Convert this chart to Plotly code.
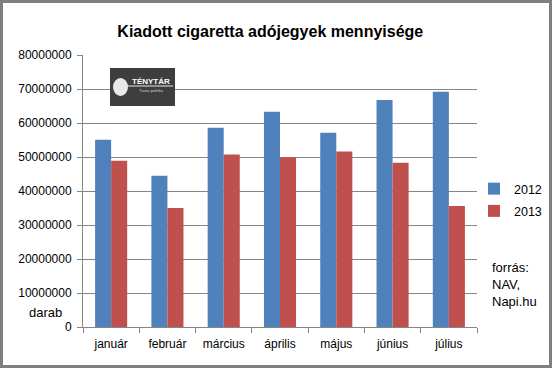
import plotly.graph_objects as go

months = ["január", "február", "március", "április", "május", "június", "július"]
series_names = ["2012", "2013"]
values_2012 = [55100000, 44500000, 58600000, 63300000, 57100000, 66800000, 69200000]
values_2013 = [48900000, 35000000, 50700000, 49900000, 51600000, 48300000, 35600000]
y_ticks = [0, 10000000, 20000000, 30000000, 40000000, 50000000, 60000000, 70000000, 80000000]

W, H = 555, 374
L, R, T, B = 83, 477, 55, 327  # plot area in pixels


def px(x):
    return (x - L) / (R - L)


def py(y):
    return (B - y) / (B - T)


FONT = "Liberation Sans"
fig = go.Figure()
fig.add_trace(go.Bar(x=months, y=values_2012, name=series_names[0], marker_color="#4F81BD",
                     marker_line_width=0, legendgroup="a"))
fig.add_trace(go.Bar(x=months, y=values_2013, name=series_names[1], marker_color="#C0504D",
                     marker_line_width=0, legendgroup="b"))

fig.update_layout(
    width=W, height=H,
    margin=dict(l=L, r=W - R, t=T, b=H - B, autoexpand=False),
    paper_bgcolor="white", plot_bgcolor="white",
    barmode="group", bargap=0.43, bargroupgap=0,
    font=dict(family=FONT, size=12, color="black"),
    title=dict(text="<b>Kiadott cigaretta adójegyek mennyisége</b>", x=0.487, xanchor="center",
               y=1 - 31 / H, yanchor="middle", font=dict(family=FONT, size=16, color="black")),
    showlegend=True,
    legend=dict(x=px(474), y=py(174), xanchor="left", yanchor="top", bgcolor="rgba(0,0,0,0)",
                font=dict(size=12.5), tracegroupgap=3, itemwidth=30, traceorder="grouped"),
    xaxis=dict(showgrid=False, showline=True, linecolor="#868686", linewidth=1,
               ticks="outside", tickson="boundaries", ticklen=5, tickcolor="#868686",
               ticklabelstandoff=6, tickfont=dict(size=12)),
    yaxis=dict(range=[0, 80000000], tickvals=y_ticks, ticktext=[str(v) for v in y_ticks],
               showgrid=True, gridcolor="#868686", gridwidth=1,
               showline=True, linecolor="#868686", linewidth=1,
               ticks="outside", ticklen=5, tickcolor="#868686", ticklabelstandoff=3,
               tickfont=dict(size=12), zeroline=False),
)

shapes = [
    # outer frame
    dict(type="rect", xref="paper", yref="paper", x0=px(1.5), x1=px(550.5), y0=py(366.5), y1=py(1.5),
         line=dict(color="#7F7F7F", width=3), fillcolor="rgba(0,0,0,0)", layer="above"),
    # logo box
    dict(type="rect", xref="paper", yref="paper", x0=px(110), x1=px(175), y0=py(106), y1=py(68),
         line=dict(width=0), fillcolor="#3E3E3E", layer="above"),
    dict(type="circle", xref="paper", yref="paper", x0=px(113), x1=px(128), y0=py(96), y1=py(78),
         line=dict(width=0), fillcolor="#E8E8E8", layer="above"),
    dict(type="line", xref="paper", yref="paper", x0=px(126), x1=px(173), y0=py(86), y1=py(86),
         line=dict(color="#E8E8E8", width=1), layer="above"),
]
fig.update_layout(shapes=shapes)

annotations = [
    dict(text="<b>TÉNYTÁR</b>", x=px(151), y=py(81), xref="paper", yref="paper", showarrow=False,
         font=dict(size=8, color="white", family=FONT), xanchor="center", yanchor="middle"),
    dict(text="Tiszta politika", x=px(151), y=py(90), xref="paper", yref="paper", showarrow=False,
         font=dict(size=4, color="#CCCCCC", family=FONT), xanchor="center", yanchor="middle"),
    dict(text="darab", x=px(45), y=py(312), xref="paper", yref="paper", showarrow=False,
         font=dict(size=13), xanchor="center", yanchor="middle"),
    dict(text="forrás:<br>NAV,<br>Napi.hu", x=px(490), y=py(258), xref="paper", yref="paper",
         showarrow=False, align="left", font=dict(size=13), xanchor="left", yanchor="top"),
]
fig.update_layout(annotations=annotations)

fig.write_html("out.html", config={"displayModeBar": False},
               post_script="document.body.style.margin='0';document.body.style.overflow='hidden';")
